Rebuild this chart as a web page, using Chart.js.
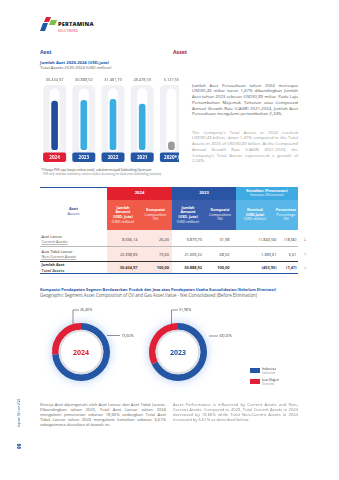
<!DOCTYPE html>
<html>
<head>
<meta charset="utf-8">
<script src="https://cdn.jsdelivr.net/npm/chart.js@4.4.1/dist/chart.umd.min.js"></script>
<style>
  html, body { margin: 0; padding: 0; background: #fff; }
  body { width: 339px; height: 480px; position: relative; overflow: hidden;
         font-family: "Open Sans", "Liberation Sans", sans-serif; -webkit-text-size-adjust: none; }
  .a { position: absolute; white-space: nowrap; }
  .p { position: absolute; text-align: justify; white-space: normal; }
  canvas { position: absolute; }
</style>
</head>
<body>

<!-- logo -->
<svg class="a" style="left:40px;top:17px" width="17" height="14" viewBox="0 0 17 14">
  <polygon points="6,0 11,0 9,5 4,5" fill="#e11f36"/>
  <polygon points="11,3 17,3 15,8 9,8" fill="#7cc242"/>
  <polygon points="3,6 8,6 5,14 0,14" fill="#1e5aa8"/>
</svg>
<div class="a" style="left:58px;top:20px;font-size:5.6px;font-weight:800;color:#222;letter-spacing:0.2px">PERTAMINA</div>
<div class="a" style="left:58px;top:28.5px;font-size:2.8px;color:#e11f36;letter-spacing:0.2px">HULU ENERGI</div>

<div class="a" style="left:40px;top:48px;font-size:5.2px;font-weight:700;color:#2456a4">Aset</div>
<div class="a" style="left:173px;top:48px;font-size:5.2px;font-weight:700;color:#b0222e">Asset</div>
<div class="a" style="left:40px;top:59.5px;font-size:4.2px;font-weight:700;color:#2456a4">Jumlah Aset 2020-2024 (USD-juta)</div>
<div class="a" style="left:40px;top:65px;font-size:4.2px;color:#555">Total Assets 2020-2024 (USD-million)</div>

<div style="position:absolute;left:40px;top:74px;width:139px;height:92px;overflow:hidden">
  <canvas id="bars" width="146" height="92" style="left:0;top:0;width:146px;height:92px"></canvas>
</div>

<div class="a" style="left:41px;top:167.5px;font-size:3px;color:#444">*) Hanya PHE saja (tanpa entitas anak), sebelum menjadi Subholding Upstream</div>
<div class="a" style="left:43px;top:172px;font-size:3px;color:#888;font-style:italic">PHE only (without subsidiary entities) before becoming an Upstream Subholding company</div>

<div class="p" style="left:192px;top:82.5px;width:106px;font-size:4.3px;line-height:5.75px;color:#555">Jumlah Aset Perusahaan tahun 2024 mencapai USD30,43 miliar turun 1,47% dibandingkan Jumlah Aset tahun 2023 sebesar USD30,89 miliar. Pada Laju Pertumbuhan Majemuk Tahunan atau Compound Annual Growth Rate (CAGR) 2021-2024, Jumlah Aset Perusahaan mengalami pertumbuhan 2,24%.</div>
<div class="p" style="left:192px;top:129.5px;width:106px;font-size:4.3px;line-height:5.75px;color:#999">The Company's Total Assets in 2024 reached USD30.43 billion, down 1.47% compared to the Total Assets in 2023 of USD30.89 billion. At the Compound Annual Growth Rate (CAGR) 2021-2024, the Company's Total Assets experienced a growth of 2.24%.</div>

<div id="table"></div>

<div class="a" style="left:40px;top:287px;font-size:3.95px;font-weight:700;color:#2456a4">Komposisi Pendapatan Segmen Berdasarkan Produk dan Jasa atas Pendapatan Usaha Konsolidasian (Sebelum Eliminasi)</div>
<div class="a" style="left:40px;top:292px;font-size:4.4px;color:#666">Geographic Segment Asset Composition of Oil and Gas Asset Value - Net Consolidated (Before Elimination)</div>

<canvas id="geo2024" width="130" height="90" style="left:40px;top:305px;width:130px;height:90px"></canvas>
<canvas id="geo2023" width="130" height="90" style="left:137px;top:305px;width:130px;height:90px"></canvas>

<div id="legend"></div>

<div class="p" style="left:40px;top:402px;width:126px;font-size:4.15px;line-height:5.1px;color:#666">Kinerja Aset dipengaruhi oleh Aset Lancar dan Aset Tidak Lancar. Dibandingkan tahun 2023, Total Aset Lancar tahun 2024 mengalami penurunan sebesar 18,66% sedangkan Total Aset Tidak Lancar tahun 2024 mengalami kenaikan sebesar 6,61% sebagaimana diuraikan di bawah ini.</div>
<div class="p" style="left:173px;top:402px;width:125px;font-size:4.15px;line-height:5.1px;color:#888">Asset Performance is influenced by Current Assets and Non-Current Assets. Compared to 2023, Total Current Assets in 2024 decreased by 18.66% while Total Non-Current Assets in 2024 increased by 6.61% as described below.</div>

<div class="a" style="left:17px;top:427px;font-size:2.6px;color:#2456a4;transform:rotate(-90deg);transform-origin:0 0">Laporan Tahunan 2024</div>
<div class="a" style="left:16px;top:449px;font-size:4.5px;font-weight:800;color:#2456a4;transform:rotate(-90deg);transform-origin:0 0">98</div>

<script>
// bar chart data
const years = ['2024', '2023', '2022', '2021', '2020*)']
const totalAssets = [30434.97, 30888.92, 31481.79, 28478.59, 5127.55]

// table data
const assetRows = ['Aset Lancar', 'Aset Tidak Lancar', 'Jumlah Aset']
const assetRowsEn = ['Current Assets', 'Non-Current Assets', 'Total Assets']
const amount2024 = [8036.14, 22398.83, 30434.97]
const comp2024 = [26.40, 73.60, 100]
const amount2023 = [9879.70, 21009.22, 30888.92]
const comp2023 = [31.98, 68.02, 100]
const changeNominal = [-1843.56, 1389.61, -453.95]
const changePct = [-18.66, 6.61, -1.47]
const changeArrow = ['down', 'up', 'up']

// doughnut data
const geoLabels = ['Indonesia', 'Luar Negeri']
const geoLabelsEn = ['Indonesia', 'Overseas']
const geo2024 = [73.60, 26.40]
const geo2023 = [68.02, 31.98]

const BLUE = '#2456a4'
const RED = '#e11f36'
const FONT = '"Open Sans", sans-serif'

function fmt(v) {
  const neg = v < 0
  const parts = Math.abs(v).toFixed(2).split('.')
  const int = parts[0].replace(/\B(?=(\d{3})+(?!\d))/g, '.')
  const s = int + ',' + parts[1]
  return neg ? '(' + s + ')' : s
}

function rrect(ctx, x, y, w, h, r) {
  ctx.beginPath()
  ctx.roundRect(x, y, w, h, r)
  ctx.fill()
}

// ---------- bar chart ----------
const barColors = ['#1f4e9c', '#3aaee3', '#3aaee3', '#3aaee3', '#9b9b9b']
const badgeColors = [RED, BLUE, BLUE, BLUE, BLUE]

const pillPlugin = {
  id: 'pills',
  beforeDatasetsDraw(chart) {
    const ctx = chart.ctx
    const xs = chart.scales.x
    years.forEach((y, i) => {
      const x = xs.getPixelForValue(i)
      ctx.fillStyle = '#eff1f4'
      rrect(ctx, x - 11.5, 11, 23, 77, 5)
      ctx.fillStyle = '#ffffff'
      rrect(ctx, x - 5, 14.5, 10, 63.5, 5)
    })
  },
  afterDatasetsDraw(chart) {
    const ctx = chart.ctx
    const xs = chart.scales.x
    ctx.textAlign = 'center'
    ctx.textBaseline = 'middle'
    years.forEach((y, i) => {
      const x = xs.getPixelForValue(i)
      ctx.fillStyle = badgeColors[i]
      rrect(ctx, x - 11.5, 78.5, 23, 9.5, 2)
      ctx.fillStyle = '#fff'
      ctx.font = 'bold 4.6px ' + FONT
      ctx.fillText(y, x, 83.4)
      ctx.fillStyle = '#555'
      ctx.font = '3.9px ' + FONT
      ctx.fillText(fmt(totalAssets[i]), x, 5.5)
    })
  }
}

new Chart(document.getElementById('bars'), {
  type: 'bar',
  data: {
    labels: years,
    datasets: [{
      data: totalAssets,
      backgroundColor: barColors,
      barThickness: 6,
      borderRadius: 3,
      borderSkipped: false
    }]
  },
  options: {
    responsive: false,
    animation: false,
    events: [],
    layout: { padding: { top: 14, bottom: 16, left: 0, right: 0 } },
    plugins: { legend: { display: false }, tooltip: { enabled: false } },
    scales: {
      x: { display: false },
      y: { display: false, min: 0, max: 38500 }
    }
  },
  plugins: [pillPlugin]
})

// ---------- table ----------
const tbl = document.getElementById('table')
function box(x, y, w, h, bg, html, style) {
  const d = document.createElement('div')
  d.style.cssText = 'position:absolute;left:' + x + 'px;top:' + y + 'px;width:' + w + 'px;height:' + h + 'px;' +
    (bg ? 'background:' + bg + ';' : '') + (style || '')
  d.innerHTML = html || ''
  tbl.appendChild(d)
  return d
}
const hdr = 'display:flex;flex-direction:column;justify-content:center;align-items:center;text-align:center;color:#fff;font-size:3.7px;line-height:4.6px;'

box(40, 186.5, 67, 0.6, BLUE)
box(107, 186.5, 65, 13.5, '#e3202e', '2024', hdr + 'font-weight:700;font-size:4.2px')
box(172, 186.5, 64, 13.5, '#2a55a5', '2023', hdr + 'font-weight:700;font-size:4.2px')
box(236, 186.5, 62, 13.5, '#3fa9e1', '<b>Kenaikan (Penurunan)</b><span>Increase (Decrease)</span>', hdr)
box(107, 200, 32, 30, '#ef5b48', '<b>Jumlah</b><b>Amount</b><b>(USD- Juta)</b><span>(USD-million)</span>', hdr)
box(139, 200, 33, 30, '#ef5b48', '<b>Komposisi</b><span>Composition</span><span>(%)</span>', hdr)
box(172, 200, 32, 30, '#3a5eab', '<b>Jumlah</b><b>Amount</b><b>(USD- Juta)</b><span>(USD-million)</span>', hdr)
box(204, 200, 32, 30, '#3a5eab', '<b>Komposisi</b><span>Composition</span><span>(%)</span>', hdr)
box(236, 200, 38, 30, '#58b6e8', '<b>Nominal</b><b>(USD-Juta)</b><span>(USD-million)</span>', hdr)
box(274, 200, 24, 30, '#58b6e8', '<b>Persentase</b><span>Percentage</span><span>(%)</span>', hdr)
box(40, 203, 67, 16, null, '<b>Aset</b><span>Assets</span>', hdr + 'color:' + BLUE + ';font-size:4px;line-height:5.2px')
box(107, 230, 65, 43, '#fde7e2')

const rowTop = [232, 247, 262]
const rowH = [14, 14, 11]
const valStyle = 'display:flex;align-items:center;justify-content:flex-end;font-size:3.9px;color:#333;'
assetRows.forEach((name, i) => {
  const y = rowTop[i]
  const bold = i === 2 ? 'font-weight:700;' : ''
  box(41.5, y, 60, rowH[i], null,
    '<div style="' + bold + 'color:#333">' + name + '</div><div style="color:#666' + (i < 2 ? ';text-decoration:underline;text-decoration-color:#bbb' : ';font-weight:700') + '">' + assetRowsEn[i] + '</div>',
    'display:flex;flex-direction:column;justify-content:center;font-size:3.8px;line-height:5.4px;')
  box(107, y, 30.5, rowH[i], null, fmt(amount2024[i]), valStyle + bold)
  box(139, y, 30, rowH[i], null, fmt(comp2024[i]), valStyle + bold)
  box(172, y, 30, rowH[i], null, fmt(amount2023[i]), valStyle + bold)
  box(204, y, 25.5, rowH[i], null, fmt(comp2023[i]), valStyle + bold)
  box(236, y, 40.5, rowH[i], null, fmt(changeNominal[i]), valStyle + bold)
  box(274, y, 22.5, rowH[i], null, fmt(changePct[i]), valStyle + bold)
  const up = changeArrow[i] === 'up'
  box(301, y, 8, rowH[i], null, up ? '&#8593;' : '&#8595;',
    'display:flex;align-items:center;justify-content:center;font-size:6px;font-weight:700;color:' + (up ? '#3aa9c9' : RED))
})
box(40, 246, 258, 0.5, '#b9b9b9')
box(40, 260.6, 258, 0.9, '#333')
box(40, 273, 258, 1.4, BLUE)

// ---------- doughnuts ----------
function geoPlugin(year, color, values, redLeader, blueLeader) {
  return {
    id: 'geo' + year,
    beforeDatasetsDraw(chart) {
      const arc = chart.getDatasetMeta(0).data[0]
      const ctx = chart.ctx
      ctx.save()
      ctx.shadowColor = 'rgba(80,140,225,0.5)'
      ctx.shadowBlur = 10
      ctx.fillStyle = '#fff'
      ctx.beginPath()
      ctx.arc(arc.x, arc.y, arc.outerRadius - 0.5, 0, Math.PI * 2)
      ctx.fill()
      ctx.restore()
    },
    afterDatasetsDraw(chart) {
      const arc = chart.getDatasetMeta(0).data[0]
      const ctx = chart.ctx
      const cx = arc.x, cy = arc.y
      ctx.save()
      ctx.strokeStyle = '#dcdee3'
      ctx.lineWidth = 2.2
      ctx.beginPath()
      ctx.arc(cx, cy, arc.innerRadius - 1.1, 0, Math.PI * 2)
      ctx.stroke()

      ctx.fillStyle = color
      ctx.font = 'bold 7px ' + FONT
      ctx.textAlign = 'center'
      ctx.textBaseline = 'middle'
      ctx.fillText(year, cx, cy + 0.5)

      ctx.strokeStyle = '#444'
      ctx.lineWidth = 0.6
      ctx.beginPath()
      ctx.moveTo(cx + redLeader.dx, cy - arc.outerRadius + 1)
      ctx.lineTo(cx + redLeader.dx, 5)
      ctx.lineTo(cx + redLeader.dx + redLeader.len, 5)
      ctx.moveTo(cx + blueLeader.dx, cy + blueLeader.dy)
      ctx.lineTo(cx + blueLeader.dx + blueLeader.len, cy + blueLeader.dy)
      ctx.stroke()

      ctx.fillStyle = '#444'
      ctx.font = '3.6px ' + FONT
      ctx.textAlign = 'left'
      ctx.fillText(fmt(values[1]) + '%', cx + redLeader.dx + redLeader.len + 1, 5)
      ctx.fillText(fmt(values[0]) + '%', cx + blueLeader.dx + blueLeader.len + 1.5, cy + blueLeader.dy)
      ctx.restore()
    }
  }
}

function makeGeo(id, year, color, values, redLeader, blueLeader) {
  new Chart(document.getElementById(id), {
    type: 'doughnut',
    data: {
      labels: geoLabels,
      datasets: [{
        data: values,
        backgroundColor: [BLUE, RED],
        borderWidth: 0
      }]
    },
    options: {
      responsive: false,
      animation: false,
      events: [],
      cutout: '77%',
      layout: { padding: { left: 12, right: 60, top: 18, bottom: 14 } },
      plugins: { legend: { display: false }, tooltip: { enabled: false } }
    },
    plugins: [geoPlugin(year, color, values, redLeader, blueLeader)]
  })
}

makeGeo('geo2024', '2024', RED, geo2024, { dx: -8, len: 6 }, { dx: 26, dy: -16.5, len: 13 })
makeGeo('geo2023', '2023', BLUE, geo2023, { dx: -6.5, len: 6.5 }, { dx: 31, dy: -16, len: 9 })

// ---------- legend ----------
const legend = document.getElementById('legend')
geoLabels.forEach((l, i) => {
  const y = 367.5 + i * 11
  const sq = document.createElement('div')
  sq.style.cssText = 'position:absolute;left:250px;top:' + y + 'px;width:10px;height:5.5px;background:' + (i === 0 ? BLUE : RED)
  legend.appendChild(sq)
  const t = document.createElement('div')
  t.className = 'a'
  t.style.cssText = 'left:262px;top:' + (y - 1) + 'px;font-size:3.1px;line-height:4px;color:#333'
  t.innerHTML = l + '<br><span style="color:#999;font-style:italic">' + geoLabelsEn[i] + '</span>'
  legend.appendChild(t)
})
</script>
</body>
</html>
